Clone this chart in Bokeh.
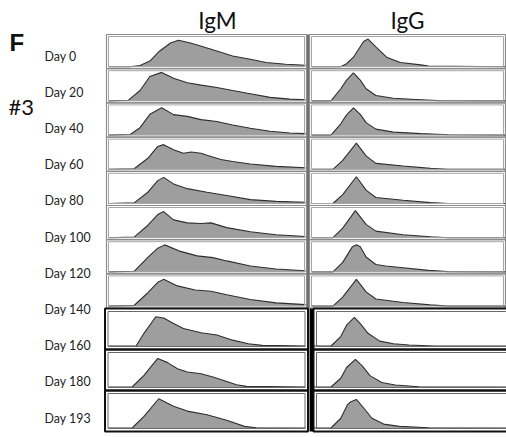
from bokeh.plotting import figure
from bokeh.models import Range1d
from bokeh.embed import file_html
from bokeh.resources import INLINE
from bokeh.core.properties import value

# ---------------- data ----------------
days = ["Day 0", "Day 20", "Day 40", "Day 60", "Day 80", "Day 100",
        "Day 120", "Day 140", "Day 160", "Day 180", "Day 193"]
markers = ["IgM", "IgG"]

# histogram outlines: x in % of panel width, height as fraction of panel height
igm_x = [
    [0, 11, 16, 21, 26, 31.5, 35.5, 41.6, 46.7, 55, 63, 72, 80, 90, 100],
    [0, 10, 16, 21, 27, 33, 40, 47, 55, 63, 72, 82, 92, 100],
    [0, 11, 16, 21, 27, 33, 40, 47, 55, 63, 72, 82, 92, 100],
    [0, 13, 20, 25, 28, 33, 38, 42, 47, 50, 57, 63, 72, 85, 100],
    [0, 13, 20, 25, 28, 33, 40, 50, 60, 72, 85, 100],
    [0, 13, 20, 25, 28, 33, 40, 47, 52, 60, 72, 85, 100],
    [0, 13, 20, 25, 28.5, 36, 45, 53, 60, 72, 85, 100],
    [0, 13, 20, 25, 28, 35, 44, 52, 60, 72, 85, 100],
    [0, 14, 18, 24, 28, 33, 38, 47, 55, 63, 71, 78, 100],
    [0, 12, 18, 25, 30, 35, 40, 47, 53, 60, 65, 70, 100],
    [0, 12, 18, 25.5, 33, 40, 50, 60, 69, 75, 100],
]
igm_h = [
    [0, 0, 0.04, 0.19, 0.53, 0.8, 0.89, 0.8, 0.7, 0.53, 0.36, 0.25, 0.14, 0.08, 0.05],
    [0, 0.02, 0.35, 0.82, 0.96, 0.76, 0.61, 0.53, 0.45, 0.35, 0.24, 0.12, 0.06, 0.04],
    [0, 0.02, 0.25, 0.7, 0.92, 0.69, 0.63, 0.52, 0.46, 0.34, 0.23, 0.13, 0.07, 0.05],
    [0, 0.02, 0.37, 0.77, 0.83, 0.66, 0.54, 0.58, 0.54, 0.47, 0.33, 0.26, 0.18, 0.1, 0.05],
    [0, 0.02, 0.38, 0.77, 0.88, 0.66, 0.5, 0.38, 0.27, 0.13, 0.07, 0.04],
    [0, 0.02, 0.42, 0.78, 0.88, 0.6, 0.5, 0.48, 0.5, 0.34, 0.2, 0.1, 0.04],
    [0, 0.02, 0.49, 0.8, 0.91, 0.7, 0.54, 0.48, 0.37, 0.2, 0.1, 0.04],
    [0, 0.02, 0.45, 0.8, 0.9, 0.68, 0.54, 0.5, 0.38, 0.22, 0.11, 0.05],
    [0, 0, 0.39, 0.9, 0.86, 0.69, 0.54, 0.41, 0.34, 0.18, 0.07, 0.02, 0],
    [0, 0, 0.36, 0.88, 0.75, 0.56, 0.46, 0.41, 0.31, 0.17, 0.07, 0.02, 0],
    [0, 0, 0.36, 0.9, 0.67, 0.52, 0.41, 0.24, 0.05, 0.01, 0],
]
igg_x = [
    [0, 15, 18, 21.5, 26.7, 29, 33, 38.5, 45.6, 56, 60, 100],
    [0, 10, 15, 18, 21.5, 25, 28, 33, 42, 56, 65, 100],
    [0, 10, 15, 18, 21.5, 25, 28, 33, 42, 56, 70, 100],
    [0, 11, 16, 23, 28, 33, 47, 61, 70, 100],
    [0, 11, 16, 23, 28, 33, 47, 61, 70, 100],
    [0, 11, 16, 22.5, 28, 33, 47, 61, 70, 100],
    [0, 11, 16, 21, 23, 25, 28, 33, 38, 47, 60, 70, 100],
    [0, 11, 16, 23, 28, 33, 47, 61, 70, 100],
    [0, 10, 15, 18, 22, 25, 29, 35, 42, 50, 63, 100],
    [0, 10, 15, 18, 22.5, 26, 30, 36, 43, 55, 100],
    [0, 10, 15, 18.5, 20, 23, 27, 31, 37, 45, 60, 100],
]
igg_h = [
    [0, 0, 0.1, 0.32, 0.85, 0.93, 0.67, 0.32, 0.14, 0.06, 0.02, 0],
    [0, 0, 0.41, 0.7, 0.94, 0.7, 0.41, 0.18, 0.09, 0.04, 0.01, 0],
    [0, 0, 0.38, 0.68, 0.92, 0.7, 0.42, 0.2, 0.1, 0.05, 0.01, 0],
    [0, 0, 0.3, 0.88, 0.45, 0.2, 0.11, 0.03, 0, 0],
    [0, 0, 0.3, 0.9, 0.45, 0.2, 0.11, 0.03, 0, 0],
    [0, 0, 0.32, 0.91, 0.45, 0.22, 0.1, 0.03, 0, 0],
    [0, 0, 0.32, 0.85, 0.91, 0.85, 0.5, 0.25, 0.2, 0.14, 0.05, 0.01, 0],
    [0, 0, 0.3, 0.9, 0.48, 0.24, 0.12, 0.04, 0, 0],
    [0, 0, 0.29, 0.64, 0.88, 0.69, 0.39, 0.15, 0.07, 0.03, 0, 0],
    [0, 0, 0.27, 0.6, 0.85, 0.65, 0.35, 0.14, 0.06, 0.01, 0],
    [0, 0, 0.3, 0.72, 0.8, 0.88, 0.6, 0.3, 0.12, 0.05, 0.01, 0],
]

# ---------------- layout (pixels) ----------------
W, H = 506, 437
N_TOP = 8
TOP0, TOP_H = 34.0, 34.2
BOT0, BOT_H = 308.0, 41.0
COLS = [(106.0, 306.0), (309.0, 505.0)]      # panel frames, top block
COLS_B = [(104.5, 307.5), (313.0, 512.0)]    # panel frames, bottom block
HIST = [(108.0, 197.0), (311.0, 195.0)]      # histogram area x0, width

p = figure(width=W, height=H, x_range=Range1d(0, W), y_range=Range1d(H, 0),
           output_backend="svg", toolbar_location=None, min_border=0)
p.axis.visible = False
p.grid.visible = False
p.outline_line_color = None
p.background_fill_color = "white"
p.border_fill_color = "white"

fill_xs, fill_ys, line_xs, line_ys = [], [], [], []
fo_l, fo_r, fo_t, fo_b, fo_c, fo_w = [], [], [], [], [], []
fi_l, fi_r, fi_t, fi_b, fi_c = [], [], [], [], []

for i in range(len(days)):
    if i < N_TOP:
        top = TOP0 + i * TOP_H
        bot = top + TOP_H
        cols = COLS
        inner_top, base = top + 2.5, bot - 2.0
        oc, ow, ic, inset = "#8c8c8c", 1.2, "#a6a6a6", 2.0
    else:
        j = i - N_TOP
        top = BOT0 + j * BOT_H
        bot = top + BOT_H
        cols = COLS_B
        inner_top, base = top + 5.0, bot - 3.5
        oc, ow, ic, inset = "#111111", 2.0, "#6a6a6a", 3.0
    for k, (l, r) in enumerate(cols):
        fo_l.append(l); fo_r.append(r); fo_t.append(top); fo_b.append(bot)
        fo_c.append(oc); fo_w.append(ow)
        fi_l.append(l + inset); fi_r.append(r - inset)
        fi_t.append(top + inset); fi_b.append(bot - inset); fi_c.append(ic)
        xp = igm_x[i] if k == 0 else igg_x[i]
        hp = igm_h[i] if k == 0 else igg_h[i]
        x0, w = HIST[k]
        ht = base - inner_top
        xs = [x0 + v / 100.0 * w for v in xp]
        ys = [base - v * ht for v in hp]
        fill_xs.append(xs + [xs[-1], xs[0]])
        fill_ys.append(ys + [base, base])
        line_xs.append(xs)
        line_ys.append(ys)

# histograms
p.patches(fill_xs, fill_ys, fill_color="#9e9e9e", line_color=None)
p.multi_line(line_xs, line_ys, line_color="#2e2e2e", line_width=1.1)

# frames
p.quad(left=fi_l, right=fi_r, top=fi_t, bottom=fi_b, fill_color=None,
       line_color=fi_c, line_width=1)
for l, r, t, b, c, w in zip(fo_l, fo_r, fo_t, fo_b, fo_c, fo_w):
    p.quad(left=[l], right=[r], top=[t], bottom=[b], fill_color=None,
           line_color=c, line_width=w)

# column separators
p.segment(x0=[307.5], y0=[TOP0], x1=[307.5], y1=[BOT0], line_color="#1a1a1a", line_width=1.2)
p.segment(x0=[310.8], y0=[BOT0], x1=[310.8], y1=[BOT0 + 3 * BOT_H], line_color="#000000", line_width=3.5)

# texts
label_y = [55.5 + i * 36.2 for i in range(len(days))]
p.text(x=[44] * len(days), y=label_y, text=days, text_font=value("Lato"),
       text_font_size="12.4px", text_color="#222222", text_baseline="alphabetic",
       text_align="left")
p.text(x=[217, 407], y=[19.5, 19.5], text=markers, text_font=value("Lato"),
       text_font_size="22.5px", text_color="#111111", text_baseline="alphabetic",
       text_align="center")
p.text(x=[9], y=[42], text=["F"], text_font=value("Liberation Sans"),
       text_font_size="24px", text_font_style="bold", text_color="#111111",
       text_baseline="alphabetic")
p.text(x=[8], y=[106], text=["#3"], text_font=value("Lato"),
       text_font_size="22px", text_color="#111111", text_baseline="alphabetic")

open("out.html", "w").write(file_html(p, INLINE))
